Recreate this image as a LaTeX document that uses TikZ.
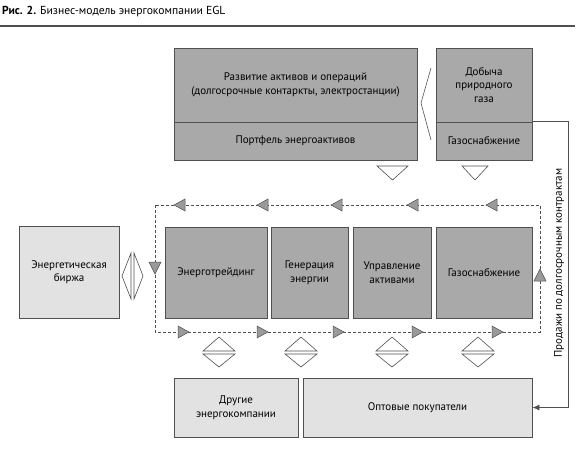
\documentclass[tikz,border=0pt]{standalone}
\usepackage{fontspec}
\setmainfont{PT Sans}
\usepackage{tikz}
\usetikzlibrary{positioning, arrows.meta}

\definecolor{darkbox}{HTML}{A9A9A9}
\definecolor{lightbox}{HTML}{E2E2E2}
\definecolor{edge}{HTML}{505050}
\definecolor{flowtri}{HTML}{9A9A9A}

\begin{document}
\begin{tikzpicture}[
    x=1pt, y=-1pt,
    font=\fontsize{11}{13.5}\selectfont,
    dark/.style={rectangle, draw=edge, fill=darkbox, line width=0.8pt, align=center, inner sep=2pt},
    light/.style={rectangle, draw=edge, fill=lightbox, line width=0.8pt, align=center, inner sep=2pt},
    hollow/.style={draw=edge, fill=white, line width=0.6pt, line join=miter},
    flow/.style={draw=edge, fill=flowtri, line width=0.5pt},
    loop/.style={draw=edge, dashed, dash pattern=on 3pt off 2pt, line width=0.6pt},
    arrow/.style={-{Latex[length=7pt, width=6pt]}, draw=edge, line width=0.8pt}
]
\useasboundingbox (0,0) rectangle (580,448);

% Title
\node (Title) [anchor=west, inner sep=0pt, font=\fontsize{11.6}{13}\selectfont] at (2,12) {\textbf{Рис. 2.} Бизнес-модель энергокомпании EGL};
\draw [edge, line width=1.2pt] (0,26) -- (575,26);

% Nodes
\node (AssetDev) [dark, minimum width=243pt, minimum height=74pt] at (295.5,85) {Развитие активов и операций\\(долгосрочные контаркты, электростанции)};
\node (Portfolio) [dark, minimum width=243pt, minimum height=38pt] at (295.5,141) {Портфель энергоактивов};
\node (GasProd) [dark, minimum width=96pt, minimum height=74pt] at (484,85) {Добыча\\природного\\газа};
\node (GasTop) [dark, minimum width=96pt, minimum height=38pt] at (484,141) {Газоснабжение};

\node (Exchange) [light, minimum width=100pt, minimum height=92pt] at (69,272) {Энергетическая\\биржа};

\node (Trading) [dark, minimum width=102pt, minimum height=91pt] at (216,272.5) {Энерготрейдинг};
\node (Generation) [dark, minimum width=77pt, minimum height=91pt] at (309.5,272.5) {Генерация\\энергии};
\node (AssetMgmt) [dark, minimum width=78pt, minimum height=91pt] at (392,272.5) {Управление\\активами};
\node (GasSupply) [dark, minimum width=96pt, minimum height=91pt] at (484,272.5) {Газоснабжение};

\node (Others) [light, minimum width=124pt, minimum height=59pt] at (236,407.5) {Другие\\энергокомпании};
\node (Wholesale) [light, minimum width=229pt, minimum height=59pt] at (417.5,407.5) {Оптовые покупатели};

\node (SalesLabel) [rotate=90] at (559,263) {Продажи по долгосрочным контрактам};

% Hollow triangles
\draw [hollow] (431,68) -- (421,103) -- (431,140);
\draw [hollow] (377,166) -- (408,166) -- (392.5,180) -- cycle;
\draw [hollow] (462,166) -- (488,166) -- (475,180) -- cycle;
\draw [hollow] (131,253) -- (122,276) -- (131,299) -- cycle;
\draw [hollow] (134,253) -- (143,276) -- (134,299) -- cycle;
\foreach \cx in {219,301,392,478}
{
  \draw [hollow] (\cx-16,351) -- (\cx,337) -- (\cx+16,351) -- cycle;
  \draw [hollow] (\cx-16,354) -- (\cx,367) -- (\cx+16,354) -- cycle;
}

% Dashed loop
\draw [loop] (155,205) rectangle (540,332);
\foreach \tx in {180,263,337,413,492}
  \draw [flow] (\tx-6,205) -- (\tx+5,199) -- (\tx+5,211) -- cycle;
\foreach \tx in {183,262,338,417,497}
  \draw [flow] (\tx+6,332) -- (\tx-5,326) -- (\tx-5,338) -- cycle;
\draw [flow] (155,274) -- (149,262) -- (161,262) -- cycle;
\draw [flow] (540,269) -- (534,281) -- (546,281) -- cycle;

% Arrows
\draw [arrow] (GasTop.north east) -- ++(36,0) |- (Wholesale.east);

\end{tikzpicture}
\end{document}
